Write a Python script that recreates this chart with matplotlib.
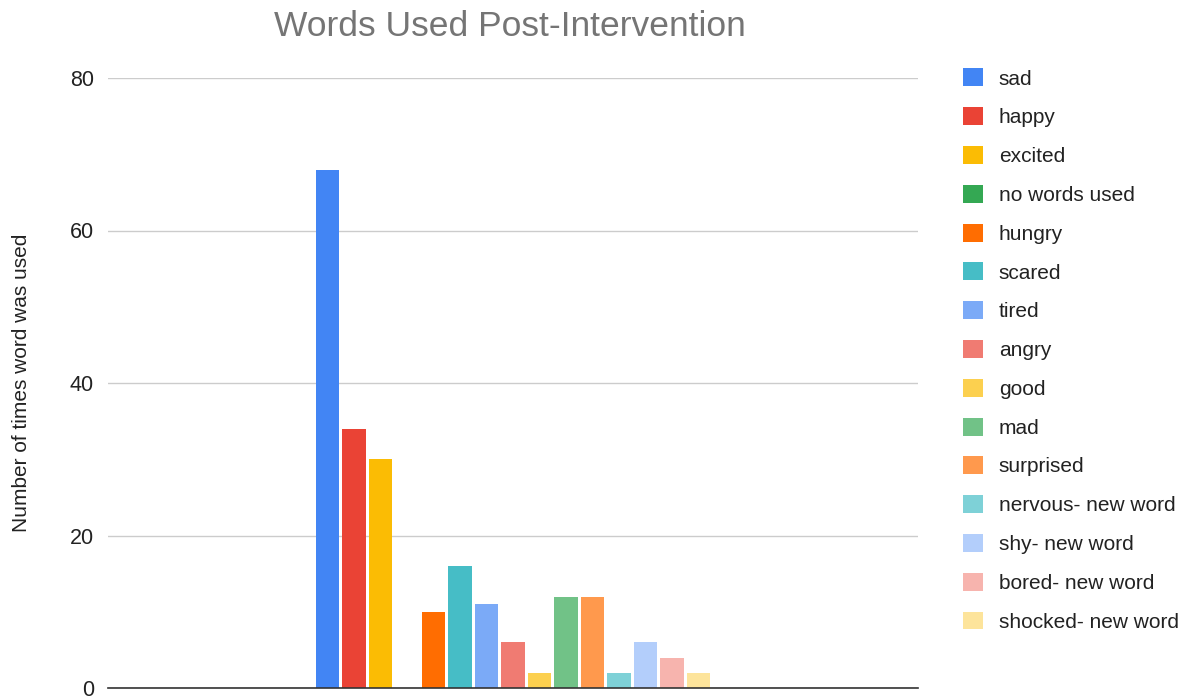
import numpy as np
import matplotlib.pyplot as plt

plt.rcParams['font.family'] = ['Liberation Sans', 'DejaVu Sans']

# words and how often each was used
words = ['sad', 'happy', 'excited', 'no words used', 'hungry', 'scared', 'tired',
         'angry', 'good', 'mad', 'surprised', 'nervous- new word', 'shy- new word',
         'bored- new word', 'shocked- new word']
counts = [68, 34, 30, 0, 10, 16, 11, 6, 2, 12, 12, 2, 6, 4, 2]
colors = ['#4285F4', '#EA4335', '#FBBC04', '#34A853', '#FF6D01', '#46BDC6', '#7BAAF7',
          '#F07B72', '#FCD04F', '#71C287', '#FF994D', '#7ED1D7', '#B3CEFB', '#F7B4AE',
          '#FDE49B']
yticks = [0, 20, 40, 60, 80]

fig = plt.figure(figsize=(11.85, 6.98), dpi=100)
ax = fig.add_axes([108 / 1185, 10 / 698, 810 / 1185, 610 / 698])

n = len(words)
x = np.arange(n) - (n - 1) / 2
for xi, c, col, lab in zip(x, counts, colors, words):
    ax.bar(xi, c, width=0.9, color=col, label=lab, zorder=3)

ax.set_xlim(-15.28, 15.28)
ax.set_ylim(0, 80)
ax.set_yticks(yticks)
ax.set_xticks([])
ax.grid(axis='y', color='#cccccc', linewidth=1, zorder=0)
for s in ['top', 'right', 'left']:
    ax.spines[s].set_visible(False)
ax.spines['bottom'].set_color('#333333')
ax.spines['bottom'].set_linewidth(1.2)
ax.spines['bottom'].set_zorder(4)
ax.tick_params(axis='y', length=0, pad=10, labelsize=15.5, labelcolor='#222222')

ax.set_ylabel('Number of times word was used', fontsize=15, color='#222222')
ax.yaxis.set_label_coords((31 - 108) / 810, 0.5)
fig.text(0.43, 0.962, 'Words Used Post-Intervention', ha='center', va='center',
         fontsize=25.5, color='#757575')

ax.legend(loc='upper left', bbox_to_anchor=(953 / 1185, 1 - 58 / 698),
          bbox_transform=fig.transFigure, frameon=False, fontsize=15,
          handlelength=0.95, handleheight=0.95, handletextpad=0.75,
          labelspacing=0.895, borderpad=0, labelcolor='#222222')

fig.savefig('out.png', dpi=100)
